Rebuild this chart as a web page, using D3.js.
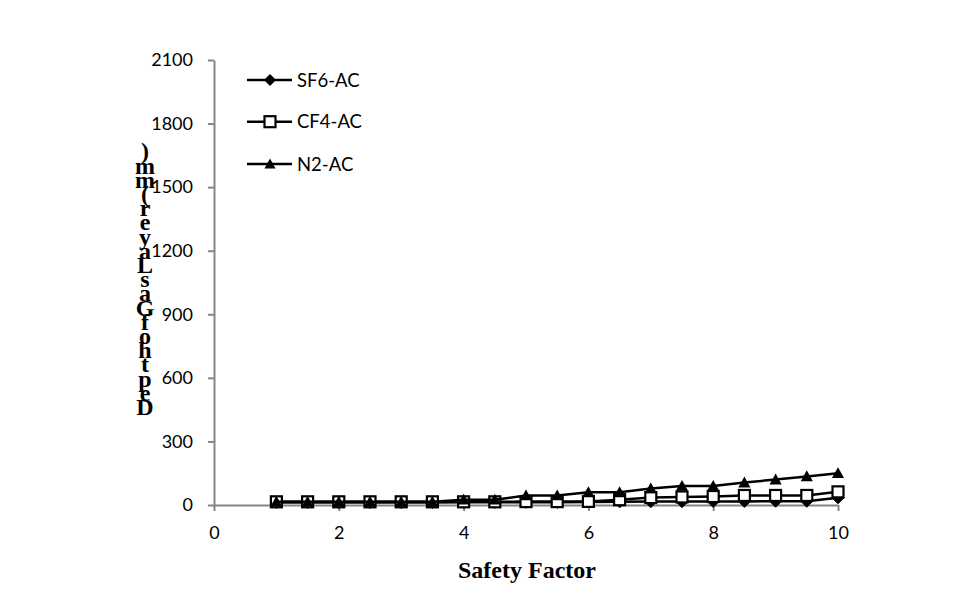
<!DOCTYPE html>
<html>
<head>
<meta charset="utf-8">
<script src="https://cdn.jsdelivr.net/npm/d3@7"></script>
<style>
  body { margin: 0; background: #fff; }
  svg { display: block; }
</style>
</head>
<body>
<svg id="chart" width="963" height="616"></svg>
<script>
// ---- data ----
const safetyFactor = [1, 1.5, 2, 2.5, 3, 3.5, 4, 4.5, 5, 5.5, 6, 6.5, 7, 7.5, 8, 8.5, 9, 9.5, 10];
const sf6AC = [12, 12, 12, 12, 12, 12, 13, 13, 13, 13, 14, 15, 16, 16, 17, 17, 18, 18, 34];
const cf4AC = [15, 15, 15, 15, 15, 15, 15, 15, 16, 16, 17, 25, 35, 38, 40, 45, 45, 45, 62];
const n2AC  = [15, 15, 15, 15, 15, 15, 25, 25, 45, 45, 60, 60, 78, 90, 90, 106, 120, 135, 150];
const seriesNames = ["SF6-AC", "CF4-AC", "N2-AC"];
const yTicks = [0, 300, 600, 900, 1200, 1500, 1800, 2100];
const xTicks = [0, 2, 4, 6, 8, 10];
const xTitle = "Safety Factor";
const yTitle = "Depth of Gas Layer (mm)";

// ---- layout ----
const svg = d3.select("#chart");
const x = d3.scaleLinear().domain([0, 10]).range([214, 838]);
const y = d3.scaleLinear().domain([0, 2100]).range([505, 60]);
const axisColor = "#868686";
const tickFont = "Lato, 'Open Sans', sans-serif";

// y axis
const yAxis = svg.append("g").attr("transform", "translate(214,0)")
  .call(d3.axisLeft(y).tickValues(yTicks).tickFormat(d3.format("d")).tickSize(6).tickSizeOuter(0).tickPadding(15));
yAxis.select(".domain").attr("stroke", axisColor).attr("stroke-width", 2);
yAxis.selectAll(".tick line").attr("stroke", axisColor).attr("stroke-width", 2);
yAxis.selectAll(".tick text").attr("font-family", tickFont).attr("font-size", 18).attr("fill", "#000");

// x axis
const xAxis = svg.append("g").attr("transform", "translate(0,505)")
  .call(d3.axisBottom(x).tickValues(xTicks).tickFormat(d3.format("d")).tickSize(6).tickSizeOuter(0).tickPadding(15));
xAxis.select(".domain").attr("stroke", axisColor).attr("stroke-width", 2);
xAxis.selectAll(".tick line").attr("stroke", axisColor).attr("stroke-width", 2);
xAxis.selectAll(".tick text").attr("font-family", tickFont).attr("font-size", 18).attr("fill", "#000");

// titles
svg.append("text").attr("x", 527).attr("y", 578).attr("text-anchor", "middle")
  .attr("font-family", "'Liberation Serif', 'Times New Roman', serif").attr("font-weight", "bold")
  .attr("font-size", 24).attr("fill", "#000").text(xTitle);

// y title: characters stacked, reversed, spaces removed (as in the reference)
const yChars = yTitle.replace(/ /g, "").split("");
const yLab = svg.append("g");
yChars.forEach((c, i) => {
  yLab.append("text").attr("x", 145).attr("y", 415 - i * 14.2).attr("text-anchor", "middle")
    .attr("font-family", "'Liberation Serif', 'Times New Roman', serif").attr("font-weight", "bold")
    .attr("font-size", 24).attr("fill", "#000").text(c);
});

// markers
function drawMarker(g, type, cx, cy, s) {
  if (type === 0) {
    const r = s * 0.55;
    g.append("path").attr("d", `M${cx},${cy - r}L${cx + r},${cy}L${cx},${cy + r}L${cx - r},${cy}Z`)
      .attr("fill", "#000").attr("stroke", "#000").attr("stroke-width", 1);
  } else if (type === 1) {
    const h = s * 0.5;
    g.append("rect").attr("x", cx - h).attr("y", cy - h).attr("width", 2 * h).attr("height", 2 * h)
      .attr("fill", "#fff").attr("stroke", "#000").attr("stroke-width", 2.2);
  } else {
    const h = s * 0.55;
    g.append("path").attr("d", `M${cx},${cy - h}L${cx + h},${cy + h * 0.8}L${cx - h},${cy + h * 0.8}Z`)
      .attr("fill", "#000");
  }
}

const allSeries = [sf6AC, cf4AC, n2AC];
const line = d3.line().x((d, i) => x(safetyFactor[i])).y(d => y(d));
allSeries.forEach((vals, k) => {
  const g = svg.append("g");
  g.append("path").datum(vals).attr("d", line).attr("fill", "none")
    .attr("stroke", "#000").attr("stroke-width", 2.5).attr("stroke-linejoin", "round");
  vals.forEach((v, i) => drawMarker(g, k, x(safetyFactor[i]), y(v), k === 1 ? 11 : 11));
});

// legend
const legendY = [80, 121.7, 164];
seriesNames.forEach((name, k) => {
  const g = svg.append("g");
  const cy = legendY[k];
  g.append("line").attr("x1", 247).attr("x2", 292).attr("y1", cy).attr("y2", cy)
    .attr("stroke", "#000").attr("stroke-width", 2.5);
  drawMarker(g, k, 270, cy, k === 1 ? 11 : 10);
  g.append("text").attr("x", 297).attr("y", cy + 6.5).attr("font-family", tickFont)
    .attr("font-size", 18.5).attr("fill", "#000").text(name);
});
</script>
</body>
</html>
